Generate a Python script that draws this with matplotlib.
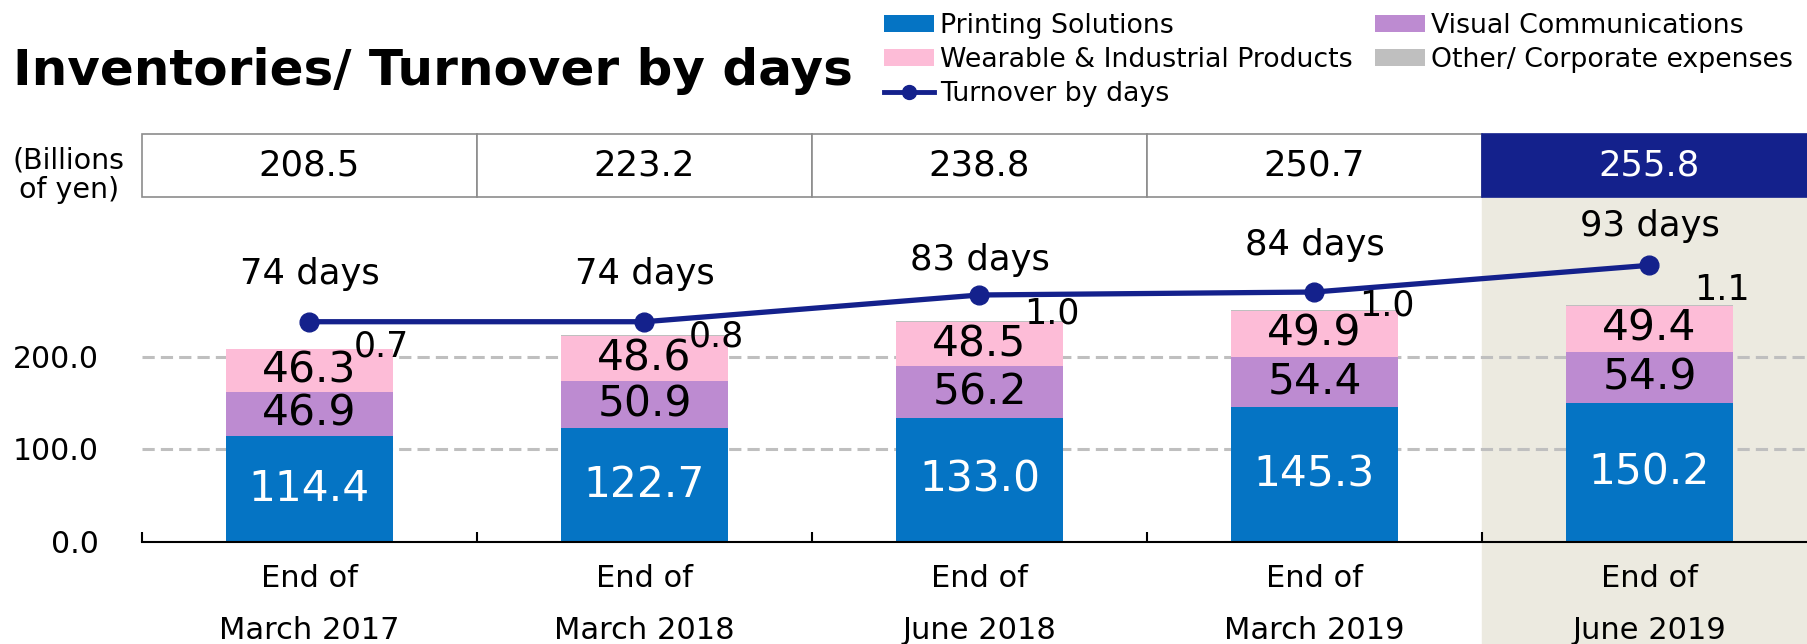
"""
Inventories / turnover by days, stacked by segment with a turnover line.
Values read off the company's quarterly presentation slide.
"""
import matplotlib.pyplot as plt
from matplotlib.lines import Line2D
from matplotlib.patches import Rectangle
from matplotlib.transforms import blended_transform_factory

periods = ["End of\nMarch 2017", "End of\nMarch 2018", "End of\nJune 2018",
           "End of\nMarch 2019", "End of\nJune 2019"]
printing = [114.4, 122.7, 133.0, 145.3, 150.2]
visual = [46.9, 50.9, 56.2, 54.4, 54.9]
wearable = [46.3, 48.6, 48.5, 49.9, 49.4]
other = [0.7, 0.8, 1.0, 1.0, 1.1]
totals = [208.5, 223.2, 238.8, 250.7, 255.8]
turnover_days = [74, 74, 83, 84, 93]

# label nudges (tuned by eye so they clear the line)
other_label_dy = [2.5, -1.7, 8, 5, 16]
days_label_dy = [34, 34, 25, 34, 28]

BLUE = "#0574C4"
PURPLE = "#BD8BD1"
PINK = "#FDBCD7"
GRAY = "#BFBFBF"
NAVY = "#14218C"
BEIGE = "#ECEAE0"

plt.rcParams["font.family"] = "DejaVu Sans"

W, H = 1808, 644
fig = plt.figure(figsize=(W / 100, H / 100), dpi=100)
ax = fig.add_axes([142 / W, 1 - 541.5 / H, 1 - 142 / W, (541.5 - 197) / H])

x = list(range(len(periods)))
bw = 0.5
b1 = ax.bar(x, printing, bw, color=BLUE, zorder=3)
b2 = ax.bar(x, visual, bw, bottom=printing, color=PURPLE, zorder=3)
base3 = [a + b for a, b in zip(printing, visual)]
b3 = ax.bar(x, wearable, bw, bottom=base3, color=PINK, zorder=3)
base4 = [a + b for a, b in zip(base3, wearable)]
b4 = ax.bar(x, other, bw, bottom=base4, color=GRAY, zorder=3)

for i in x:
    ax.text(i, printing[i] / 2, f"{printing[i]:.1f}", ha="center", va="center",
            color="white", fontsize=30.5, zorder=5)
    ax.text(i, printing[i] + visual[i] / 2, f"{visual[i]:.1f}", ha="center",
            va="center", color="black", fontsize=30.5, zorder=5)
    ax.text(i, base3[i] + wearable[i] / 2, f"{wearable[i]:.1f}", ha="center",
            va="center", color="black", fontsize=30.5, zorder=5)
    ax.text(i + 0.215, base4[i] + other[i] + other_label_dy[i], f"{other[i]:.1f}",
            ha="center", va="center", color="black", fontsize=25, zorder=5)

ax.set_xlim(-0.5, -0.5 + 1666 / 335)
ax.set_ylim(0, 344.5 / 0.925)
ax.set_yticks([0, 100, 200], ["0.0", "100.0", "200.0"])
ax.set_xticks(x, periods)
ax.set_xticks([i - 0.5 for i in x], minor=True)
ax.tick_params(axis="y", length=0, labelsize=21.5, pad=31)
ax.tick_params(axis="x", which="major", length=0, labelsize=22, pad=16)
ax.tick_params(axis="x", which="minor", direction="in", length=7.2, width=1.5)
for lbl in ax.get_xticklabels():
    lbl.set_linespacing(2.0)

ax.yaxis.grid(True, color=GRAY, linestyle=(0, (4, 2)), linewidth=2.2, zorder=1)
ax.set_axisbelow(True)
for s in ["top", "right", "left"]:
    ax.spines[s].set_visible(False)
ax.spines["bottom"].set_linewidth(1.5)
ax.spines["bottom"].set_zorder(4)

# highlight for the latest quarter, running down behind the tick labels
trans = blended_transform_factory(ax.transData, ax.transAxes)
ax.add_patch(Rectangle((3.5, -0.3), 2, 1.3, transform=trans, color=BEIGE,
                       zorder=0, clip_on=False))

# totals row above the plot
for i in x:
    last = i == len(x) - 1
    ax.add_patch(Rectangle((i - 0.5, 1.0), 1, 0.183, transform=trans,
                           facecolor=NAVY if last else "white",
                           edgecolor=NAVY if last else "#8C8C8C",
                           linewidth=1.2, clip_on=False, zorder=6))
    ax.text(i, 1.0915, f"{totals[i]:.1f}", transform=trans, ha="center",
            va="center", fontsize=25.5, color="white" if last else "black",
            zorder=7, clip_on=False)

# turnover line on its own scale
ax2 = ax.twinx()
ax2.set_ylim(0, 344.5 / 2.97)
ax2.axis("off")
ax2.plot(x, turnover_days, color=NAVY, linewidth=3.8, marker="o",
         markersize=13.5, zorder=5)
for i in x:
    ax2.annotate(f"{turnover_days[i]} days", (i, turnover_days[i]),
                 xytext=(0, days_label_dy[i]), textcoords="offset points",
                 ha="center", va="center", fontsize=25.5)

fig.text(13 / W, 1 - 85 / H, "Inventories/ Turnover by days", fontsize=36,
         fontweight="bold", va="baseline", ha="left")
fig.text(69 / W, 1 - 175 / H, "(Billions\nof yen)", fontsize=20.5,
         ha="center", va="center", linespacing=1.05)

line_handle = Line2D([], [], color=NAVY, linewidth=3.5, marker="o", markersize=10)
handles = [b1, b3, line_handle, b2, b4]
labels = ["Printing Solutions", "Wearable & Industrial Products",
          "Turnover by days", "Visual Communications",
          "Other/ Corporate expenses"]
fig.legend(handles, labels, loc="upper left", bbox_to_anchor=(884 / W, 1 - 13 / H),
           ncol=2, frameon=False, fontsize=19.3, handlelength=1.85,
           handleheight=0.6, handletextpad=0.23, labelspacing=0.3,
           columnspacing=0.85, borderpad=0, borderaxespad=0)

fig.savefig("out.png", dpi=100)
